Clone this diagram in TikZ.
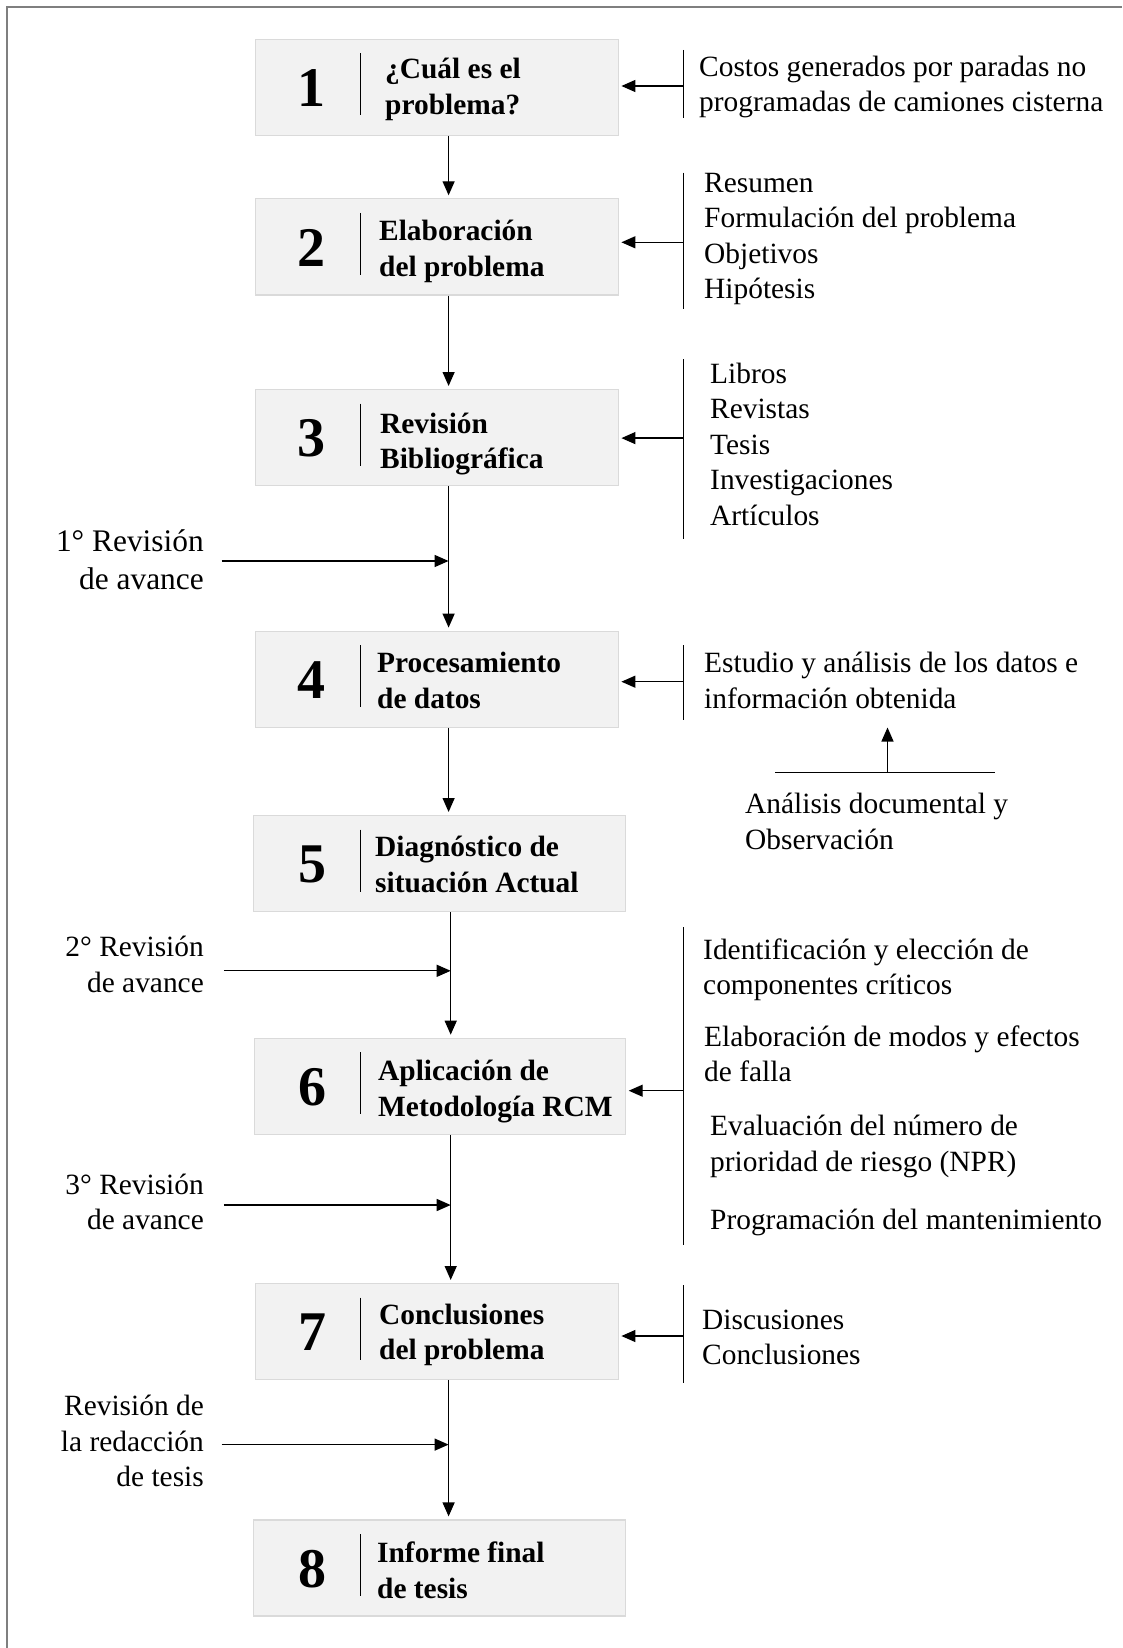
\documentclass[tikz,border=0pt]{standalone}
\usepackage{fontspec}
\setmainfont{Liberation Serif}
\usetikzlibrary{arrows.meta,calc}
\definecolor{boxfill}{HTML}{F2F2F2}
\definecolor{boxline}{HTML}{DADADA}
\definecolor{framecol}{HTML}{7F7F7F}
\begin{document}
\begin{tikzpicture}[x=1pt,y=-1pt,
  stepbox/.style={draw=boxline, fill=boxfill, line width=1.2pt, minimum height=96pt, minimum width=363.5pt, inner sep=0pt},
  widebox/.style={stepbox, minimum width=371.9pt},
  num/.style={font=\fontsize{56}{56}\selectfont\bfseries, inner sep=0pt},
  btxt/.style={font=\fontsize{29.4}{35.7}\selectfont\bfseries, align=left, anchor=west, inner sep=0pt},
  rtxt/.style={font=\fontsize{29.4}{35.5}\selectfont, align=left, anchor=west, inner sep=0pt},
  ltxt/.style={font=\fontsize{29.4}{35.5}\selectfont, align=right, anchor=east, inner sep=0pt},
  arr/.style={-{Triangle[length=14pt,width=12pt]}, line width=1.3pt},
  bracket/.style={line width=1.3pt},
  sepline/.style={line width=1pt}]
\useasboundingbox (0,0) rectangle (1122,1648);
\draw[framecol, line width=2pt] (7,1648) -- (7,7) -- (1122,7);

% boxes
\node[stepbox] (b1) at (437.05,87.2) {};
\node[stepbox] (b2) at (437.05,246.9) {};
\node[stepbox] (b3) at (437.05,437.6) {};
\node[stepbox] (b4) at (437.05,679.2) {};
\node[widebox] (b5) at (439.15,863.6) {};
\node[widebox, minimum width=370.9pt] (b6) at (439.65,1086.3) {};
\node[stepbox] (b7) at (437.05,1331.6) {};
\node[widebox] (b8) at (439.15,1568.0) {};

% numbers
\node[num] (n1) at (311.5,88.2) {1};
\node[num] (n2) at (311.5,247.9) {2};
\node[num] (n3) at (311.5,438.6) {3};
\node[num] (n4) at (311.5,680.2) {4};
\node[num] (n5) at (312.5,864.6) {5};
\node[num] (n6) at (312.5,1087.3) {6};
\node[num] (n7) at (312.5,1332.6) {7};
\node[num] (n8) at (312.5,1569.0) {8};

% separators
\draw[sepline] (360.4,53.2) -- (360.4,115.2);
\draw[sepline] (360.4,212.9) -- (360.4,274.9);
\draw[sepline] (360.4,403.6) -- (360.4,465.6);
\draw[sepline] (360.4,645.2) -- (360.4,707.2);
\draw[sepline] (360.4,829.6) -- (360.4,891.6);
\draw[sepline] (360.4,1052.3) -- (360.4,1114.3);
\draw[sepline] (360.4,1297.6) -- (360.4,1359.6);
\draw[sepline] (360.4,1534.0) -- (360.4,1596.0);

% box texts
\node[btxt] (t1) at (385,89.4) {¿Cuál es el\\problema?};
\node[btxt] (t2) at (379,251.2) {Elaboración\\del problema};
\node[btxt] (t3) at (380,444.0) {Revisión\\Bibliográfica};
\node[btxt] (t4) at (377,680.3) {Procesamiento\\de datos};
\node[btxt] (t5) at (375,864.7) {Diagnóstico de\\situación Actual};
\node[btxt] (t6) at (378,1091.6) {Aplicación de\\Metodología RCM};
\node[btxt] (t7) at (379,1334.8) {Conclusiones\\del problema};
\node[btxt] (t8) at (377,1570.2) {Informe final\\de tesis};

% main flow
\coordinate (mx) at (448.6,0);
\coordinate (mw) at (450.7,0);
\draw[arr] (b1.south -| mx) -- ($(b2.north -| mx)+(0,-3)$);
\draw[arr] (b2.south -| mx) -- ($(b3.north -| mx)+(0,-3)$);
\draw[arr] (b3.south -| mx) -- ($(b4.north -| mx)+(0,-3)$);
\draw[arr] (b4.south -| mx) -- ($(b5.north -| mx)+(0,-3)$);
\draw[arr] (b5.south -| mw) -- ($(b6.north -| mw)+(0,-3)$);
\draw[arr] (b6.south -| mw) -- ($(b7.north -| mw)+(0,-3)$);
\draw[arr] (b7.south -| mx) -- ($(b8.north -| mx)+(0,-3)$);

% left review labels
\node[ltxt, font=\fontsize{31.4}{37.8}\selectfont] (l1) at (204,560) {1° Revisión\\de avance};
\node[ltxt] (l2) at (204,964.4) {2° Revisión\\de avance};
\node[ltxt] (l3) at (204,1201.9) {3° Revisión\\de avance};
\node[ltxt] (l4) at (204,1441.3) {Revisión de\\la redacción\\de tesis};
\coordinate (s1) at (221.7,561.0);
\coordinate (s2) at (223.8,970.8);
\coordinate (s3) at (223.8,1205.0);
\coordinate (s4) at (221.7,1444.6);
\draw[arr] (s1) -- (s1 -| mx);
\draw[arr] (s2) -- (s2 -| mw);
\draw[arr] (s3) -- (s3 -| mw);
\draw[arr] (s4) -- (s4 -| mx);

% right inputs
\draw[bracket] (683.5,50) -- (683.5,118.3);
\draw[bracket] (683.5,172.7) -- (683.5,309.3);
\draw[bracket] (683.5,359.3) -- (683.5,539.0);
\draw[bracket] (683.5,645) -- (683.5,720);
\draw[bracket] (683.5,927.3) -- (683.5,1245);
\draw[bracket] (683.5,1285) -- (683.5,1383.3);
\coordinate (r1) at (683.5,86);
\coordinate (r2) at (683.5,242.3);
\coordinate (r3) at (683.5,438.1);
\coordinate (r4) at (683.5,681.7);
\coordinate (r6) at (683.5,1090.7);
\coordinate (r7) at (683.5,1336);
\draw[arr] (r1) -- ($(r1 -| b1.east)+(2,0)$);
\draw[arr] (r2) -- ($(r2 -| b2.east)+(2,0)$);
\draw[arr] (r3) -- ($(r3 -| b3.east)+(2,0)$);
\draw[arr] (r4) -- ($(r4 -| b4.east)+(2,0)$);
\draw[arr] (r6) -- ($(r6 -| b6.east)+(3,0)$);
\draw[arr] (r7) -- ($(r7 -| b7.east)+(2,0)$);

\node[rtxt] (i1) at (699,87.2) {Costos generados por paradas no\\programadas de camiones cisterna};
\node[rtxt] (i2) at (704,239.1) {Resumen\\Formulación del problema\\Objetivos\\Hipótesis};
\node[rtxt] (i3) at (710,444.4) {Libros\\Revistas\\Tesis\\Investigaciones\\Artículos};
\node[rtxt] (i4) at (704,680.2) {Estudio y análisis de los datos e\\información obtenida};
\node[rtxt] (i5) at (745,821.5) {Análisis documental y\\Observación};
\node[rtxt] (i6a) at (703,969.7) {Identificación y elección de\\componentes críticos};
\node[rtxt] (i6b) at (704,1053.8) {Elaboración de modos y efectos\\de falla};
\node[rtxt] (i6c) at (710,1146.3) {Evaluación del número de\\prioridad de riesgo (NPR)};
\node[rtxt] (i6d) at (710,1222.9) {Programación del mantenimiento};
\node[rtxt] (i7) at (702,1337.4) {Discusiones\\Conclusiones};

% observation feed
\coordinate (ha) at (775,772.7);
\coordinate (hb) at (995,772.7);
\coordinate (up) at (887.5,772.7);
\coordinate (uptip) at (887.5,727.5);
\draw[bracket] (ha) -- (hb);
\draw[arr] (up) -- (uptip);
\end{tikzpicture}
\end{document}
